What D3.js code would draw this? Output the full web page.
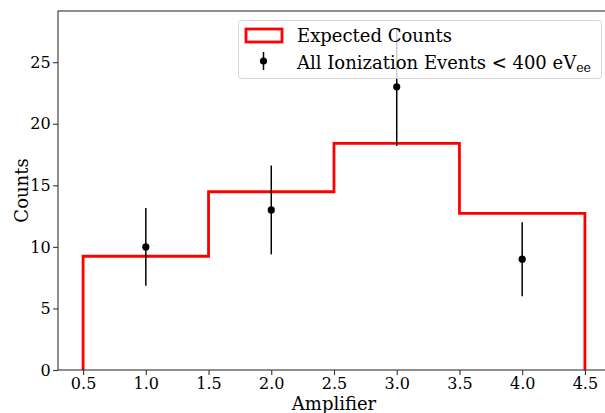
<!DOCTYPE html>
<html>
<head>
<meta charset="utf-8">
<script src="https://cdn.jsdelivr.net/npm/d3@7"></script>
<style>
  body { margin: 0; background: #fff; }
  svg { display: block; font-family: "DejaVu Serif", serif; }
  .tick text { font-size: 16px; fill: #000; font-family: "DejaVu Serif", serif; }
  .tick line { stroke: #333; stroke-width: 1.1; }
</style>
</head>
<body>
<div id="chart"></div>
<script>
// measured counts per amplifier, with sqrt(N) error bars
var amplifiers = [1, 2, 3, 4];
var counts = [10, 13, 23, 9];
var countErrors = [3.16, 3.61, 4.80, 3.00];

// expected counts histogram (step outline)
var binEdges = [0.5, 1.5, 2.5, 3.5, 4.5];
var expectedCounts = [9.24, 14.48, 18.41, 12.73];

var xTicks = [0.5, 1.0, 1.5, 2.0, 2.5, 3.0, 3.5, 4.0, 4.5];
var yTicks = [0, 5, 10, 15, 20, 25];

var svgWidth = 605;
var svgHeight = 413;

// plot area runs past the right edge of the picture (cropped figure)
var margin = { top: 11, left: 58, bottom: 43, right: -5 };
var plotRight = svgWidth - margin.right;
var plotBottom = svgHeight - margin.bottom;

var svg = d3.select("#chart")
  .append("svg")
  .attr("width", svgWidth)
  .attr("height", svgHeight);

var xScale = d3.scaleLinear()
  .domain([0.3, 4.7])
  .range([margin.left, plotRight]);

var yScale = d3.scaleLinear()
  .domain([0, 29.16])
  .range([plotBottom, margin.top]);

// axes
var bottomAxis = d3.axisBottom(xScale)
  .tickValues(xTicks)
  .tickFormat(d3.format(".1f"))
  .tickSizeInner(4.9)
  .tickSizeOuter(0)
  .tickPadding(3);

var leftAxis = d3.axisLeft(yScale)
  .tickValues(yTicks)
  .tickFormat(d3.format("d"))
  .tickSizeInner(4.9)
  .tickSizeOuter(0)
  .tickPadding(2.5);

svg.append("g")
  .attr("transform", `translate(0, ${plotBottom})`)
  .call(bottomAxis)
  .call(g => g.select(".domain").remove());

svg.append("g")
  .attr("transform", `translate(${margin.left}, 0)`)
  .call(leftAxis)
  .call(g => g.select(".domain").remove());

// histogram step outline
var stepPoints = [[binEdges[0], 0]];
expectedCounts.forEach(function (h, i) {
  stepPoints.push([binEdges[i], h]);
  stepPoints.push([binEdges[i + 1], h]);
});
stepPoints.push([binEdges[binEdges.length - 1], 0]);

var stepLine = d3.line()
  .x(d => xScale(d[0]))
  .y(d => yScale(d[1]));

svg.append("path")
  .datum(stepPoints)
  .attr("d", stepLine)
  .attr("fill", "none")
  .attr("stroke", "#ff0000")
  .attr("stroke-width", 2.8)
  .attr("stroke-linejoin", "miter");

// error bars
var points = amplifiers.map((a, i) => ({ x: a, y: counts[i], err: countErrors[i] }));

svg.selectAll(".errbar")
  .data(points)
  .enter()
  .append("line")
  .attr("class", "errbar")
  .attr("x1", d => xScale(d.x))
  .attr("x2", d => xScale(d.x))
  .attr("y1", d => yScale(d.y - d.err))
  .attr("y2", d => yScale(d.y + d.err))
  .attr("stroke", "#000")
  .attr("stroke-width", 1.5);

svg.selectAll(".dot")
  .data(points)
  .enter()
  .append("circle")
  .attr("class", "dot")
  .attr("cx", d => xScale(d.x))
  .attr("cy", d => yScale(d.y))
  .attr("r", 3.6)
  .attr("fill", "#000");

// frame
svg.append("rect")
  .attr("x", margin.left)
  .attr("y", margin.top)
  .attr("width", plotRight - margin.left)
  .attr("height", plotBottom - margin.top)
  .attr("fill", "none")
  .attr("stroke", "#333")
  .attr("stroke-width", 1.1);

// axis labels
svg.append("text")
  .attr("x", (margin.left + plotRight) / 2)
  .attr("y", 409.5)
  .attr("text-anchor", "middle")
  .attr("font-size", "18px")
  .text("Amplifier");

svg.append("text")
  .attr("transform", `translate(27.5, ${(margin.top + plotBottom) / 2}) rotate(-90)`)
  .attr("text-anchor", "middle")
  .attr("font-size", "18px")
  .text("Counts");

// legend
var legend = svg.append("g");

legend.append("rect")
  .attr("x", 238.5)
  .attr("y", 20.5)
  .attr("width", 363)
  .attr("height", 58)
  .attr("rx", 3)
  .attr("fill", "#fff")
  .attr("fill-opacity", 0.8)
  .attr("stroke", "#ccc")
  .attr("stroke-opacity", 0.8)
  .attr("stroke-width", 1);

legend.append("rect")
  .attr("x", 246)
  .attr("y", 29)
  .attr("width", 36)
  .attr("height", 13)
  .attr("fill", "none")
  .attr("stroke", "#ff0000")
  .attr("stroke-width", 2.8);

legend.append("text")
  .attr("x", 297)
  .attr("y", 41.5)
  .attr("font-size", "18px")
  .text("Expected Counts");

legend.append("line")
  .attr("x1", 263.5)
  .attr("x2", 263.5)
  .attr("y1", 52)
  .attr("y2", 70)
  .attr("stroke", "#000")
  .attr("stroke-width", 1.5);

legend.append("circle")
  .attr("cx", 263.5)
  .attr("cy", 61)
  .attr("r", 3.6)
  .attr("fill", "#000");

var label2 = legend.append("text")
  .attr("x", 297)
  .attr("y", 68.5)
  .attr("font-size", "18px");

label2.append("tspan").text("All Ionization Events < 400 eV");
label2.append("tspan")
  .attr("font-size", "12.5px")
  .attr("dy", 3.5)
  .text("ee");
</script>
</body>
</html>
